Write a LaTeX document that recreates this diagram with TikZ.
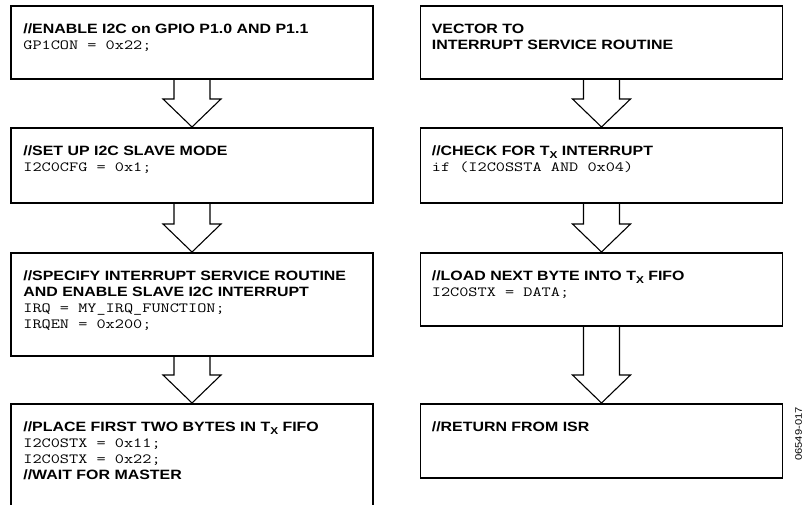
\documentclass[tikz,border=0pt]{standalone}
\usepackage{fontspec}
\setmainfont{Liberation Sans}[FakeStretch=1.18]
\newfontfamily\codefont{Latin Modern Mono}[FakeStretch=1.27]
\usetikzlibrary{positioning,calc}

\newcommand{\tx}{T\raisebox{-0.35ex}{\fontsize{10}{10}\selectfont X}}
\newcommand{\code}[1]{{\codefont\mdseries\fontsize{14}{16}\selectfont #1}}
% hollow block arrow from one box to the next
\newcommand{\flowarrow}[2]{%
  \draw[blockarrow] ($(#1.south)+(-18,0)$) -- ($(#2.north)+(-18,-28)$)
    -- ($(#2.north)+(-29,-28)$) -- (#2.north) -- ($(#2.north)+(29,-28)$)
    -- ($(#2.north)+(18,-28)$) -- ($(#1.south)+(18,0)$);}

\begin{document}
\begin{tikzpicture}[x=1pt,y=-1pt,
  box/.style={draw,line width=1.7pt,minimum width=362pt,inner sep=0pt,anchor=north},
  txt/.style={anchor=north west,inner sep=0pt,align=left,
    font=\bfseries\fontsize{13.5}{16}\selectfont},
  blockarrow/.style={draw,line width=1.1pt,line join=miter}]
\clip (0,0) rectangle (803,505);

% main program
\node[box,minimum height=73pt] (init) at (192,5) {};
\node[box,minimum height=75pt] (slave) at (192,127) {};
\node[box,minimum height=103pt] (irq) at (192,252) {};
\node[box,minimum height=130pt] (fifo) at (192,403) {};

\node[txt] (initT) at ([shift={(13,19)}]init.north west)
  {//ENABLE I2C on GPIO P1.0 AND P1.1\\ \code{GP1CON = 0x22;}};
\node[txt] (slaveT) at ([shift={(13,19)}]slave.north west)
  {//SET UP I2C SLAVE MODE\\ \code{I2C0CFG = 0x1;}};
\node[txt] (irqT) at ([shift={(13,19)}]irq.north west)
  {//SPECIFY INTERRUPT SERVICE ROUTINE\\ AND ENABLE SLAVE I2C INTERRUPT\\
   \code{IRQ = MY\_IRQ\_FUNCTION;}\\ \code{IRQEN = 0x200;}};
\node[txt] (fifoT) at ([shift={(13,19)}]fifo.north west)
  {//PLACE FIRST TWO BYTES IN \tx{} FIFO\\ \code{I2C0STX = 0x11;}\\
   \code{I2C0STX = 0x22;}\\ //WAIT FOR MASTER};

% interrupt service routine
\node[box,minimum height=73pt] (vect) at (601.5,5) {};
\node[box,minimum height=75pt] (check) at (601.5,127) {};
\node[box,minimum height=73pt] (load) at (601.5,252) {};
\node[box,minimum height=74pt] (ret) at (601.5,403) {};

\node[txt] (vectT) at ([shift={(12,19)}]vect.north west)
  {VECTOR TO\\ INTERRUPT SERVICE ROUTINE};
\node[txt] (checkT) at ([shift={(12,19)}]check.north west)
  {//CHECK FOR \tx{} INTERRUPT\\ \code{if (I2C0SSTA AND 0x04)}};
\node[txt] (loadT) at ([shift={(12,19)}]load.north west)
  {//LOAD NEXT BYTE INTO \tx{} FIFO\\ \code{I2C0STX = DATA;}};
\node[txt] (retT) at ([shift={(12,19)}]ret.north west)
  {//RETURN FROM ISR};

\flowarrow{init}{slave}
\flowarrow{slave}{irq}
\flowarrow{irq}{fifo}
\flowarrow{vect}{check}
\flowarrow{check}{load}
\flowarrow{load}{ret}

\node[rotate=90,font=\fontsize{9.5}{9.5}\selectfont] (figno) at (798.5,434) {06549-017};
\end{tikzpicture}
\end{document}
